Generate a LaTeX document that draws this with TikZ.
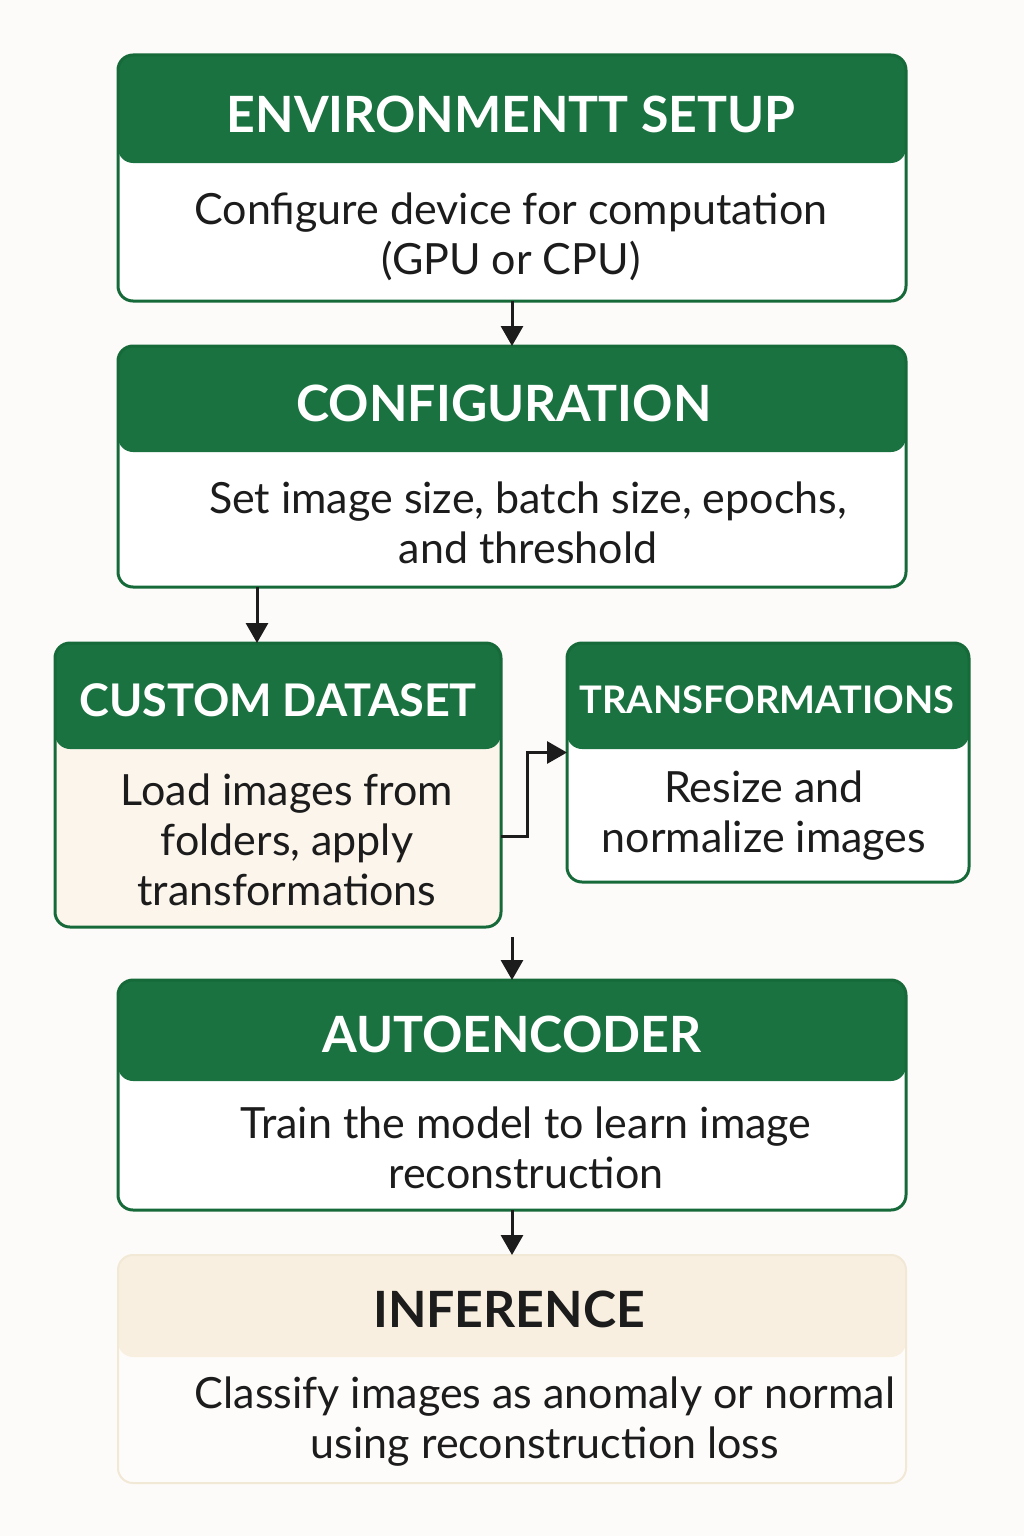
\documentclass[tikz,border=0pt]{standalone}
\usepackage{fontspec}
\setmainfont{Lato}
\usetikzlibrary{arrows.meta,calc}

\definecolor{hdgreen}{HTML}{1A7241}
\definecolor{edgegreen}{HTML}{166A3A}
\definecolor{creambody}{HTML}{FBF5EC}
\definecolor{creamhead}{HTML}{F8EFE1}
\definecolor{creamedge}{HTML}{F2E8D6}
\definecolor{paper}{HTML}{FDFBF9}
\definecolor{softwhite}{HTML}{FEFCFA}
\definecolor{ink}{HTML}{1C1C1C}

\tikzset{
  panel/.style n args={3}{
    draw=#3, line width=3pt, rounded corners=15pt, fill=#2,
    anchor=north west, inner sep=0pt, outer sep=0pt,
    path picture={\fill[#1] (path picture bounding box.north west)
      rectangle ([yshift=-\headh]path picture bounding box.north east);}
  },
  headtext/.style={font=\fontsize{50}{56}\selectfont\bfseries, text=white, inner sep=0pt},
  bodytext/.style={font=\fontsize{43}{50}\selectfont, text=ink, align=center, inner sep=0pt},
  flow/.style={draw=ink, line width=3pt,
    -{Triangle[length=20pt,width=22pt]}},
}
\newlength{\headh}

\begin{document}
\begin{tikzpicture}[x=1pt,y=-1pt]
  \fill[paper] (0,0) rectangle (1024,1536);
  \useasboundingbox (0,0) rectangle (1024,1536);

  % environment setup
  \setlength{\headh}{108pt}
  \node[panel={hdgreen}{white}{edgegreen}, minimum width=788pt, minimum height=246pt]
    (env) at (118,55) {};
  \node[headtext] (envh) at (511,114) {ENVIRONMENTT SETUP};
  \node[bodytext] (envb) at (511,237) {Configure device for computation\\(GPU or CPU)};

  % configuration
  \setlength{\headh}{106pt}
  \node[panel={hdgreen}{white}{edgegreen}, minimum width=788pt, minimum height=241pt]
    (cfg) at (118,346) {};
  \node[headtext] (cfgh) at (504,403) {CONFIGURATION};
  \node[bodytext] (cfgb) at (528,523) {Set image size, batch size, epochs,\\and threshold};

  % custom dataset
  \setlength{\headh}{106pt}
  \node[panel={hdgreen}{creambody}{edgegreen}, minimum width=446pt, minimum height=284pt]
    (cds) at (55,643) {};
  \node[headtext, font=\fontsize{45}{52}\selectfont\bfseries] (cdsh) at (278,700) {CUSTOM DATASET};
  \node[bodytext] (cdsb) at (287,840) {Load images from\\folders, apply\\transformations};

  % transformations
  \setlength{\headh}{106pt}
  \node[panel={hdgreen}{white}{edgegreen}, minimum width=402pt, minimum height=239pt]
    (trs) at (567,643) {};
  \node[headtext, font=\fontsize{38}{44}\selectfont\bfseries] (trsh) at (767,700) {TRANSFORMATIONS};
  \node[bodytext] (trsb) at (764,816) {Resize and\\normalize images};

  % autoencoder
  \setlength{\headh}{101pt}
  \node[panel={hdgreen}{white}{edgegreen}, minimum width=788pt, minimum height=230pt]
    (ae) at (118,980) {};
  \node[headtext] (aeh) at (512,1034) {AUTOENCODER};
  \node[bodytext] (aeb) at (526,1148) {Train the model to learn image\\reconstruction};

  % inference
  \setlength{\headh}{102pt}
  \node[panel={creamhead}{softwhite}{creamedge}, line width=2pt, minimum width=788pt, minimum height=228pt]
    (inf) at (118,1255) {};
  \node[headtext, text=ink] (infh) at (509,1309) {INFERENCE};
  \node[bodytext] (infb) at (545,1422) {Classify images as anomaly or normal\\using reconstruction loss};

  % connectors
  \coordinate (feed) at (512,937);
  \draw[flow] (env.south) -- (cfg.north);
  \draw[flow] ([xshift=-21pt]cds.north |- cfg.south) -- ([xshift=-21pt]cds.north);
  \draw[flow]
    ([yshift=-51pt]cds.east) -- ++(26,0) |- ([yshift=10pt]trs.west);
  \draw[flow] (feed) -- (ae.north);
  \draw[flow] (ae.south) -- (inf.north);
\end{tikzpicture}
\end{document}
